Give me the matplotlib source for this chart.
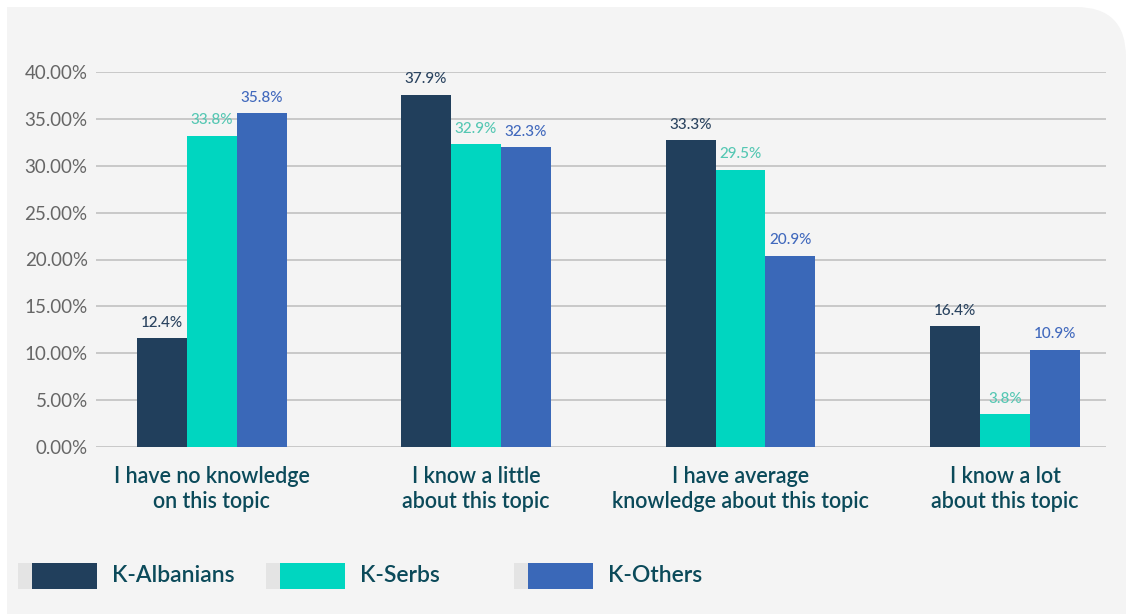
import numpy as np
import matplotlib.pyplot as plt
from matplotlib.patches import FancyBboxPatch, Rectangle
from matplotlib.transforms import IdentityTransform

plt.rcParams['font.family'] = ['Lato', 'DejaVu Sans']

# Data (bar heights, labels as printed)
categories = ["I have no knowledge\non this topic",
              "I know a little\nabout this topic",
              "I have average\nknowledge about this topic",
              "I know a lot\nabout this topic"]
groups = ["K-Albanians", "K-Serbs", "K-Others"]
albanians = [11.6, 37.6, 32.7, 12.9]
serbs = [33.2, 32.3, 29.6, 3.5]
others = [35.6, 32.0, 20.4, 10.4]
albanians_lbl = ["12.4%", "37.9%", "33.3%", "16.4%"]
serbs_lbl = ["33.8%", "32.9%", "29.5%", "3.8%"]
others_lbl = ["35.8%", "32.3%", "20.9%", "10.9%"]
yticks = [0, 5, 10, 15, 20, 25, 30, 35, 40]

bar_colors = ['#213f5c', '#00d6c0', '#3a68b8']
label_colors = ['#2b4460', '#55c7b3', '#4169bd']
text_color = '#0b4a5a'

W, H = 1126, 614
fig = plt.figure(figsize=(W / 100, H / 100), dpi=100)
fig.patch.set_facecolor('white')

# light panel with a rounded top-right corner
panel = FancyBboxPatch((7, -100), W - 7, H - 7 + 100,
                       boxstyle="round,pad=0,rounding_size=50",
                       transform=IdentityTransform(), facecolor='#f4f4f4',
                       edgecolor='none', zorder=0)
square = Rectangle((7, -100), 600, H - 7 + 100, transform=IdentityTransform(),
                   facecolor='#f4f4f4', edgecolor='none', zorder=0)
fig.add_artist(panel)
fig.add_artist(square)

ax = fig.add_axes([96 / W, (H - 447) / H, 1010 / W, 375 / H])
ax.set_facecolor('none')

x = np.arange(len(categories))
w = 0.189
series = [albanians, serbs, others]
labels = [albanians_lbl, serbs_lbl, others_lbl]
for k in range(3):
    xs = x + (k - 1) * w
    ax.bar(xs, series[k], width=w, color=bar_colors[k], zorder=3, label=groups[k])
    for xi, h, t in zip(xs, series[k], labels[k]):
        ax.annotate(t, (xi, h), xytext=(0, 6), textcoords='offset points',
                    ha='center', va='bottom', fontsize=11, color=label_colors[k],
                    fontweight='medium', annotation_clip=False)

ax.set_ylim(0, 40)
ax.set_xlim(-0.437, 3.382)
ax.set_yticks(yticks)
ax.set_yticklabels([f"{v:.2f}%" for v in yticks])
ax.set_xticks(x)
ax.set_xticklabels(categories)
ax.tick_params(axis='y', length=0, pad=6, labelsize=13.5, labelcolor='#666666')
ax.tick_params(axis='x', length=0, pad=14, labelsize=15.5, labelcolor=text_color)
for lbl in ax.get_xticklabels():
    lbl.set_linespacing(1.2)
    lbl.set_fontweight('semibold')
ax.grid(axis='y', color='#c8c8c8', linewidth=1.4, zorder=0)
for s in ax.spines.values():
    s.set_visible(False)

# legend drawn by hand
for i, g in enumerate(groups):
    x0 = 18 + 248 * i
    fig.add_artist(Rectangle((x0, H - 589), 14, 26, transform=IdentityTransform(),
                             facecolor='#e4e4e4', edgecolor='none'))
    fig.add_artist(Rectangle((x0 + 14, H - 589), 65, 26, transform=IdentityTransform(),
                             facecolor=bar_colors[i], edgecolor='none'))
    fig.text((x0 + 94) / W, (H - 576) / H, g, fontsize=16.5, color=text_color,
             fontweight='semibold', ha='left', va='center')

fig.savefig('out.png', dpi=100)
